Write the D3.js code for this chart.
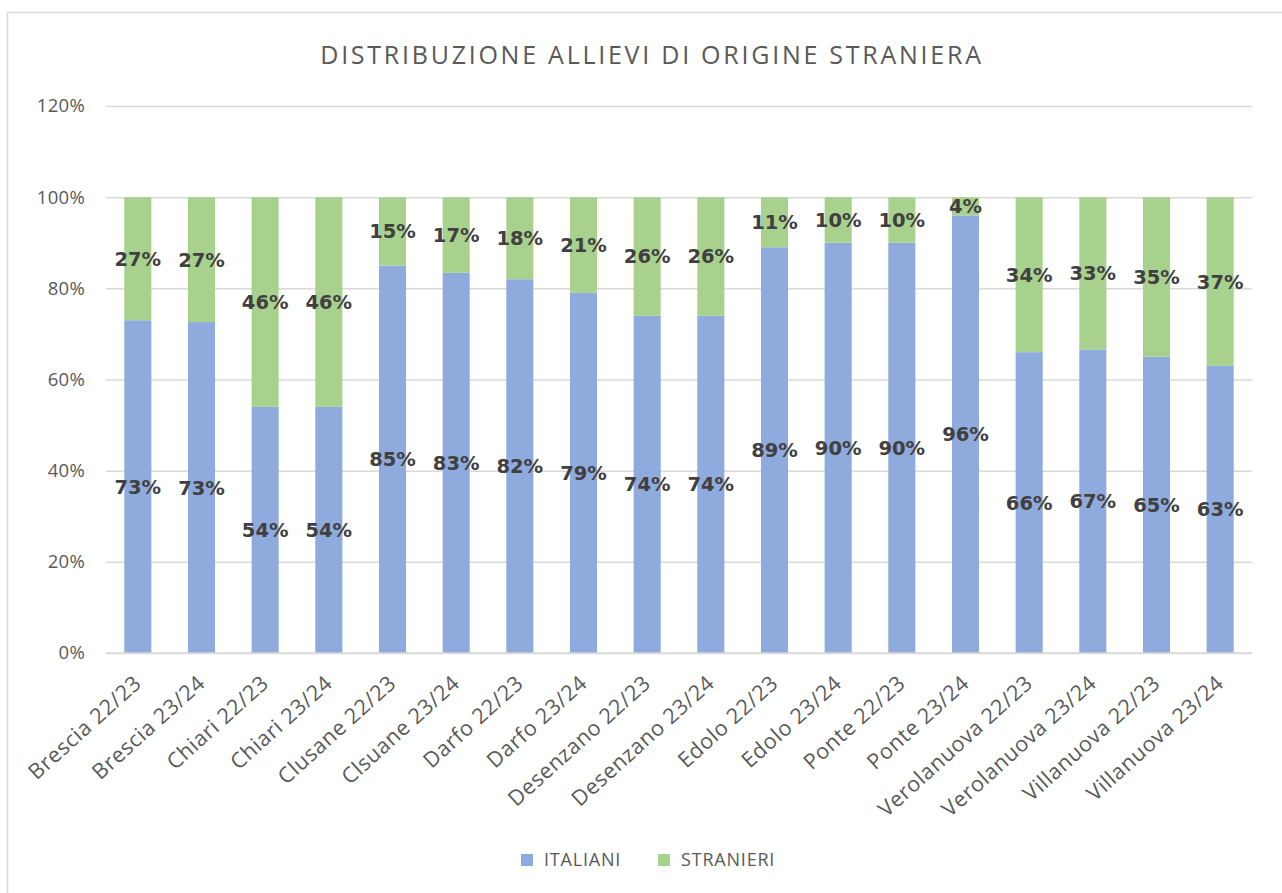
<!DOCTYPE html>
<html><head><meta charset="utf-8">
<script src="https://cdnjs.cloudflare.com/ajax/libs/d3/7.8.5/d3.min.js"></script>
<style>body{margin:0;background:#fff}svg{display:block}</style>
</head><body>
<script>
const categories = ["Brescia 22/23","Brescia 23/24","Chiari 22/23","Chiari 23/24","Clusane 22/23","Clsuane 23/24","Darfo 22/23","Darfo 23/24","Desenzano 22/23","Desenzano 23/24","Edolo 22/23","Edolo 23/24","Ponte 22/23","Ponte 23/24","Verolanuova 22/23","Verolanuova 23/24","Villanuova 22/23","Villanuova 23/24"];
const italiani  = [73, 72.6, 54, 54, 85, 83.4, 82, 79, 74, 74, 89, 90, 90, 96, 66, 66.6, 65, 63];
const stranieri = [27, 27.4, 46, 46, 15, 16.6, 18, 21, 26, 26, 11, 10, 10, 4, 34, 33.4, 35, 37];
const seriesNames = ["ITALIANI","STRANIERI"];
const yTicks = [0, 20, 40, 60, 80, 100, 120];
const title = "DISTRIBUZIONE ALLIEVI DI ORIGINE STRANIERA";

const W = 1282, H = 893;
const colors = {ITALIANI:"#8FAADC", STRANIERI:"#A9D18E"};
const FONT = "'Open Sans', sans-serif";
const svg = d3.select("body").append("svg").attr("width", W).attr("height", H);
svg.append("rect").attr("x",7.5).attr("y",12.5).attr("width",W+10).attr("height",H+10)
  .attr("fill","#fff").attr("stroke","#D9D9D9").attr("stroke-width",1.5);

const x = d3.scaleBand().domain(categories).range([106, 1252]).paddingInner(0.575).paddingOuter(0.2875);
const y = d3.scaleLinear().domain([0,120]).range([653, 106]);

svg.append("text").attr("x", 652).attr("y", 64).attr("text-anchor","middle")
  .attr("font-family",FONT).attr("font-size",25).attr("letter-spacing","2.75px")
  .attr("fill","#595959").text(title);

const yAxis = svg.append("g").attr("transform","translate(106,0)")
  .call(d3.axisLeft(y).tickValues(yTicks).tickFormat(d => d + "%").tickSize(-1146).tickPadding(21));
yAxis.select(".domain").remove();
yAxis.selectAll("line").attr("stroke","#D9D9D9").attr("stroke-width",1.5);
yAxis.selectAll("text").attr("font-family",FONT).attr("font-size",18.5).attr("letter-spacing","0.3px").attr("fill","#595959");

const data = categories.map((c,i)=>({cat:c, ITALIANI:italiani[i], STRANIERI:stranieri[i]}));
const stack = d3.stack().keys(seriesNames)(data);

const g = svg.append("g");
stack.forEach(s => {
  g.selectAll(null).data(s).join("rect")
    .attr("x", d => x(d.data.cat)).attr("width", x.bandwidth())
    .attr("y", d => y(d[1])).attr("height", d => y(d[0]) - y(d[1]))
    .attr("fill", colors[s.key]);
});

// baseline
svg.append("line").attr("x1",106).attr("x2",1252).attr("y1",y(0)).attr("y2",y(0))
  .attr("stroke","#D9D9D9").attr("stroke-width",1.5);

stack.forEach(s => {
  g.selectAll(null).data(s).join("text")
    .attr("x", d => x(d.data.cat) + x.bandwidth()/2)
    .attr("y", d => y((d[0]+d[1])/2)).attr("dy","0.36em")
    .attr("text-anchor","middle")
    .attr("font-family","'DejaVu Sans', sans-serif").attr("font-weight","bold").attr("font-size",19.5)
    .attr("fill","#404040")
    .text(d => Math.round(d[1]-d[0]) + "%");
});

const xAxis = svg.append("g").attr("transform",`translate(0,${y(0)})`)
  .call(d3.axisBottom(x).tickSize(0).tickPadding(0));
xAxis.select(".domain").remove();
xAxis.selectAll("text")
  .attr("font-family",FONT).attr("font-size",21.5).attr("letter-spacing","0.6px").attr("fill","#595959")
  .attr("text-anchor","end").attr("dy",0)
  .attr("transform","translate(5,32) rotate(-42)");

const legend = svg.append("g").attr("transform","translate(521,860)");
const lx = [0, 137];
seriesNames.forEach((n,i)=>{
  legend.append("rect").attr("x",lx[i]).attr("y",-6).attr("width",12).attr("height",12).attr("fill",colors[n]);
  legend.append("text").attr("x",lx[i]+23).attr("y",0).attr("dy","0.36em")
    .attr("font-family",FONT).attr("font-size",18).attr("letter-spacing","0.8px").attr("fill","#595959").text(n);
});
</script>
</body></html>
